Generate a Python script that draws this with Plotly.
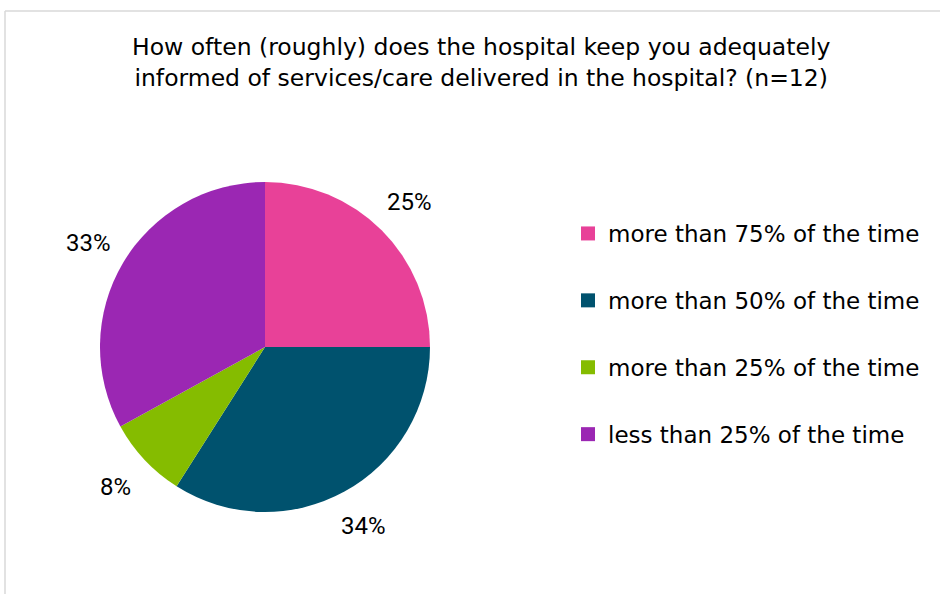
import math
import plotly.graph_objects as go

# Survey responses (percent of respondents)
categories = [
    "more than 75% of the time",
    "more than 50% of the time",
    "more than 25% of the time",
    "less than 25% of the time",
]
percentages = [25, 34, 8, 33]
colors = ["#E84198", "#00526E", "#85BC00", "#9B27B3"]

title_lines = [
    "How often (roughly) does the hospital keep you adequately",
    "informed of services/care delivered in the hospital? (n=12)",
]

W, H = 940, 594
cx, cy, r = 265, 347, 165  # pie centre and radius in pixels
label_r = 1.24 * r           # distance of the percentage labels from the centre

fig = go.Figure()

fig.add_trace(go.Pie(
    labels=categories,
    values=percentages,
    sort=False,
    direction="clockwise",
    rotation=0,
    marker=dict(colors=colors, line=dict(width=0)),
    textinfo="none",
    showlegend=False,
    hoverinfo="label+percent",
    domain=dict(x=[(cx - r) / W, (cx + r) / W],
                y=[(H - cy - r) / H, (H - cy + r) / H]),
))

# Percentage labels placed outside each slice, at the slice's mid-angle
annotations = []
total = sum(percentages)
cum = 0
for v in percentages:
    mid = (cum + v / 2) / total * 2 * math.pi  # clockwise from 12 o'clock
    cum += v
    px = cx + label_r * math.sin(mid)
    py = cy - label_r * math.cos(mid)
    annotations.append(dict(
        text=f"{v}%", xref="paper", yref="paper",
        x=px / W, y=1 - py / H, xanchor="center", yanchor="middle",
        showarrow=False,
        font=dict(family="Roboto, sans-serif", size=24, color="#000000"),
    ))

annotations.append(dict(
    text="<br>".join(title_lines),
    xref="paper", yref="paper",
    x=481 / W, xanchor="center",
    y=1 - 31 / H, yanchor="top",
    showarrow=False, align="center",
    font=dict(family="DejaVu Sans", size=23.5, color="#000000"),
))

# Legend entries, one group each so they can be spaced apart
for name, col in zip(categories, colors):
    fig.add_trace(go.Scatter(
        x=[None], y=[None], mode="markers", name=name,
        legendgroup=name,
        marker=dict(symbol="square", size=14, color=col),
    ))

fig.update_layout(
    width=W, height=H,
    margin=dict(l=0, r=0, t=0, b=0),
    paper_bgcolor="white",
    plot_bgcolor="white",
    xaxis=dict(visible=False),
    yaxis=dict(visible=False),
    annotations=annotations,
    legend=dict(
        x=568 / W, xanchor="left",
        y=1 - 212 / H, yanchor="top",
        font=dict(family="DejaVu Sans", size=23, color="#000000"),
        tracegroupgap=34,
        itemsizing="trace",
        bgcolor="rgba(0,0,0,0)",
    ),
    shapes=[
        dict(type="line", xref="paper", yref="paper",
             x0=5 / W, x1=1, y0=1 - 11 / H, y1=1 - 11 / H,
             line=dict(color="#D9D9D9", width=1.5)),
        dict(type="line", xref="paper", yref="paper",
             x0=5 / W, x1=5 / W, y0=0, y1=1 - 11 / H,
             line=dict(color="#D9D9D9", width=1.5)),
    ],
)

fig.write_html("out.html")
